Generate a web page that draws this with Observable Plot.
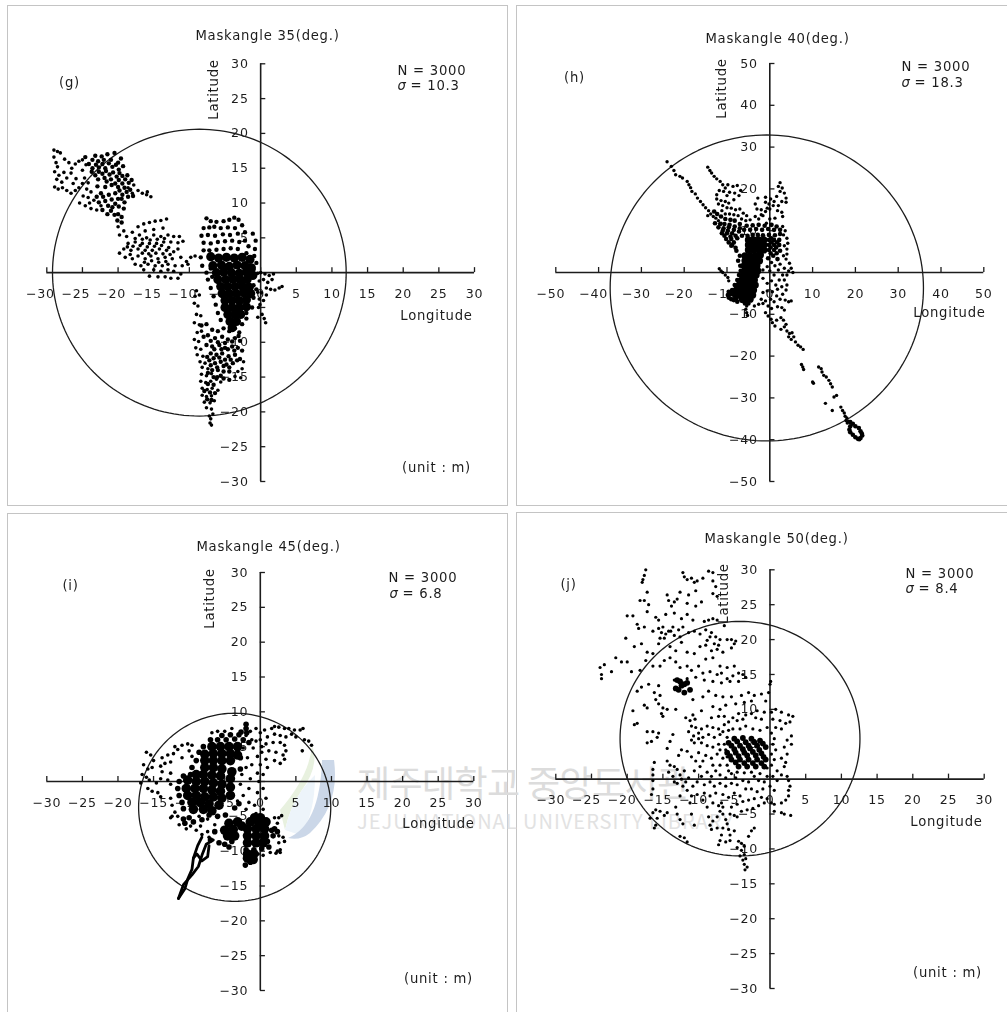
<!DOCTYPE html>
<html><head><meta charset="utf-8">
<script src="https://cdn.jsdelivr.net/npm/d3@7"></script>
<script src="https://cdn.jsdelivr.net/npm/@observablehq/plot@0.6"></script>
<style>
html,body{margin:0;padding:0;background:#fff}
#page{position:relative;width:1007px;height:1012px;overflow:hidden;background:#fff}
.frame{position:absolute;border:1.5px solid #c4c4c4;box-sizing:border-box}
.wm{position:absolute;white-space:nowrap;color:#dcdcdc;font-family:"Noto Sans CJK KR",sans-serif}
</style></head><body><div id="page"></div>
<script>
// ---- Panel (g) Maskangle 35 ----
const gLoose=[[-29,17.6],[-28.5,17.4],[-28.1,17.2],[-29,16.6],[-28.7,15.8],[-28.5,15.2],[-27.5,16.3],[-26.9,15.8],[-28.9,14.5],[-28.3,14],[-27.6,14.4],[-28.6,13.4],[-27.9,13],[-27.2,13.6],[-28.9,12.3],[-28.4,12],[-27.8,12.2],[-27.2,11.8],[-26.6,11.4],[-26,11.8],[-25.5,12.2],[-26.3,12.8],[-25.9,13.5],[-26.6,14.3],[-26.5,15],[-26,15.6],[-25.5,16],[-25,16.2],[-24.5,15.5],[-25,14.7],[-24.7,13.6],[-24.2,12.9],[-25,12.8],[-24.4,12],[-23.8,11.6],[-24.9,11],[-24.2,10.8],[-25.4,10],[-24.6,9.6],[-24,10],[-23.4,10.4],[-23.8,9.2],[-23,9],[-22.4,9.6],[-18.6,12.2],[-18,11.4],[-17.8,12.6],[-17.2,11.8],[-16.6,11.4],[-16,11.2],[-15.4,10.9],[-15.9,11.6],
[-20,6.6],[-19.2,6],[-19.8,5.4],[-18.8,5.2],[-18,5.8],[-17.2,6.6],[-16.4,7],[-15.6,7.2],[-14.8,7.4],[-14,7.5],[-13.2,7.7],[-13.7,6.4],[-15,6.2],[-16.2,6],[-17,5.4],[-16,5],[-15,5.4],[-14,5.2],[-13,5.4],[-12.2,5.2],[-11.4,5.2],[-10.9,4.5],[-11.6,4.3],[-12.6,4.4],[-13.6,4.4],[-14.6,4.2],[-15.6,4.2],[-16.6,4.2],[-17.6,4.4],[-18.6,4.2],[-19.2,3.4],[-18.2,3.2],[-17.2,3.4],[-16.2,3.2],[-15.2,3.2],[-14.2,3.4],[-13.2,3.2],[-12.2,3],[-11.6,3.4],[-19.8,2.8],[-19,2.2],[-18,2],[-17.2,2.4],[-16.2,2],[-15.4,2.4],[-14.4,2],[-13.4,2.2],[-12.4,2],[-11.2,2.2],[-9.8,2.2],[-9.2,2.4],[-10.4,1.6],[-17.6,1.2],[-16.8,1],[-15.8,1.2],[-14.8,1],[-13.8,1],[-13,1.2],[-12,1],[-11,1],[-10.2,1.2],[-16.4,0.4],[-15,0.4],[-14,0.2],[-13,0.4],[-12.2,0.2],[-14.4,-0.6],[-13.4,-0.6],[-12.6,-0.8],[-11.6,-0.8],[-11.2,-0.2],[-15.6,-0.5],[-18.7,3.7],[-17.9,3.8],[-16.9,3.9],[-15.9,3.7],[-14.9,3.8],[-13.9,3.9],[-12.9,3.6],[-16.6,2.8],[-15.7,2.7],[-14.7,2.8],[-13.7,2.7],[-12.7,2.6],[-17.6,4.9],[-16.6,4.8],[-15.5,4.7],[-14.5,4.8],[-13.5,4.9],[-18.3,2.6],[-16.3,1.5],[-15.3,1.7],[-14.3,1.5],[-13.3,1.6],
[-9,-2.6],[-9.2,-3.4],[-8.6,-3.2],[-9.3,-4.4],[-8.8,-4.8],[-9,-6],[-8.4,-6.2],[-9.3,-7.2],[-8.6,-7.5],[-8.9,-8.6],[-8.3,-8.4],[-9.3,-9.6],[-8.7,-9.9],[-9.1,-10.8],[-8.4,-11],[-8.9,-11.8],[-8.1,-12],[-8.5,-12.8],[-7.8,-13],[-8.2,-13.6],[-7.4,-13.8],[-8.3,-14.6],[-7.6,-14.8],[-6.9,-14.5],[-8.4,-15.6],[-7.7,-15.8],[-7,-15.6],[-6.2,-15.3],[-8.2,-16.6],[-7.5,-16.8],[-6.8,-16.6],[-6,-16.9],[-5.6,-15.7],[-8.2,-17.6],[-7.6,-17.8],[-6.9,-17.7],[-7.9,-18.6],[-7.1,-18.7],[-6.5,-18.4],[-7.6,-19.4],[-6.9,-19.6],[-6.7,-20.3],[-7,-21],[-7.1,-21.6],[-6.9,-21.9],[-7.2,-20.6],
[-3.2,-14.2],[-2.6,-13.8],[-3.6,-14.9],[-2.4,-12.8],[-2.8,-15.1],[-0.4,-0.1],[0,0],[0.6,-0.2],[1.2,-0.4],[1.8,-0.2],[-0.2,-1.2],[0.4,-1],[1,-1.4],[1.6,-1],[0.8,-2.2],[1.4,-2.4],[2,-2.5],[2.6,-2.2],[3,-2],[-0.4,-2.8],[0.1,-2.9],[0.8,-3.2],[-0.2,-3.8],[0.4,-4],[-0.3,-5],[0.2,-6],[0.5,-6.6],[0.7,-7.2],[-0.4,-6.4],[-0.1,-4.6]];
const gMid=[[-23.6,16.2],[-22.8,16],[-22,16.2],[-21,16.2],[-20,15.8],[-23.6,15],[-22.7,15.1],[-21.8,15],[-20.8,15.2],[-19.9,14.8],[-23.2,14],[-22.2,14.2],[-21.2,14.1],[-20.2,13.8],[-19.4,13.9],[-21.6,13.1],[-20.4,12.8],[-19.4,12.8],[-18.5,12.9],[-19.8,11.8],[-18.8,11.6],[-22.4,11.4],[-21.4,9.6],[-20.4,9.9],[-19.5,10.6],[-21,8.9],[-20,8.4],[-24.6,16.6],[-23.2,16.8],[-22.3,16.7],[-21.5,17],[-20.5,17.2],[-19.6,16.4],[-24.1,15.6],[-23.1,15.5],[-22.2,15.6],[-21.3,15.7],[-20.3,15.5],[-19.3,15.3],[-23.7,14.5],[-22.7,14.5],[-21.7,14.6],[-20.7,14.4],[-19.8,14.3],[-18.7,14],[-22.8,13.4],[-21.9,13.6],[-21,13.4],[-19.9,13.3],[-19,13.4],[-18.1,13.3],[-22.9,12.4],[-21.8,12.3],[-20.9,12.6],[-20,12.3],[-19.1,12.2],[-18.3,11.9],[-17.9,11],[-23,10.9],[-22.1,10.9],[-21.3,11.2],[-20.4,11.4],[-19.4,11.2],[-18.6,10.9],[-22.7,10.1],[-21.8,10.3],[-20.9,10.5],[-20,10.6],[-19.1,10.1],[-22.2,9],[-20.8,9.4],[-19.9,9.5],[-19.2,9.2],[-21.5,8.4],[-20.5,8.3],[-19.5,8],[-20.1,7.5],[-19.5,7.2],
[-7.6,7.8],[-7,7.4],[-6.2,7.3],[-5.2,7.4],[-4.4,7.6],[-3.7,7.9],[-3.1,7.6],[-2.6,6.8],[-8,6.4],[-7.2,6.5],[-6.5,6.6],[-5.6,6.4],[-4.6,6.5],[-3.6,6.4],[-2.2,5.8],[-8.3,5.3],[-7.4,5.4],[-6.4,5.3],[-5.3,5.5],[-4.3,5.4],[-3.2,5.6],[-2.2,4.6],[-1.1,5.6],[-0.7,4.6],[-8,4.3],[-7,4.2],[-6,4.4],[-5,4.5],[-4,4.6],[-3,4.4],[-1.7,3.8],[-0.8,3.4],[-8,3.2],[-7.2,3.2],[-6.2,3.3],[-5.2,3.4],[-4.2,3.5],[-3.2,3.4],[-2,2.8],[-0.9,2.4],[-0.6,1.4],
[-8.3,-7.6],[-7.6,-7.4],[-6.8,-8.2],[-6,-8.4],[-5.2,-8],[-4.4,-8.4],[-3.6,-8],[-3,-8.6],[-7.4,-9],[-6.4,-9.4],[-5.4,-9.2],[-4.6,-9.6],[-3.6,-9.4],[-2.9,-9.8],[-7.6,-10.4],[-6.8,-10.6],[-5.8,-10.4],[-5,-10.8],[-4,-10.6],[-3.2,-10.8],[-2.6,-11.2],[-7,-11.6],[-6.2,-11.8],[-5.4,-11.6],[-4.5,-12],[-3.6,-11.8],[-2.9,-12.4],[-7.2,-12.6],[-6.4,-13],[-5.6,-12.8],[-4.8,-13.2],[-3.9,-13],[-6.8,-14],[-6,-14],[-5.2,-14.2],[-4.4,-14.2],[-5.2,-15.2],[-4.4,-15.4],[-6.1,-15],[-8,-9.2],[-7,-9.8],[-6,-10],[-5,-10.1],[-4,-9.9],[-3.1,-9.1],[-6.5,-11],[-5.5,-11],[-4.6,-11],[-3.7,-11.2],[-7.5,-12.1],[-6.6,-12.3],[-5.8,-12.2],[-5,-12.5],[-4.2,-12.5],[-3.3,-12.6],[-7,-13.3],[-6.1,-13.6],[-5.2,-13.4],[-4.4,-13.6],[-7.4,-14.4],[-6.6,-15],[-5.6,-14.8],[-7.4,-16],[-6.6,-16.1],[-7.9,-17],[-7.1,-17.2],[-6.4,-17.3],[-7.5,-18.2],[-6.9,-18.3],
[-8.4,2.2],[-8.2,1],[-7.6,0],[-7.4,-1],[-7,-2.2],[-6.6,-3.4],[-6.3,-4.6],[-6,-5.8],[-5.6,-6.8],[-6.8,-0.6],[-7,0.6],[-1,0.4],[-1,-1.8],[-0.6,-2.4],[-1,-3.6],[-1.2,-5],[-2,-5.8],[-2,-6.6],[-2.6,-7.4]];
const gCore=[[-7,2.3],[-5.9,2.1],[-4.8,2.2],[-3.7,2.1],[-2.6,2.2],[-1.5,1.9],[-6.7,1],[-5.5,1.1],[-4.4,0.9],[-3.3,1.1],[-2.2,1],[-1.3,0.7],[-6.2,0],[-5.2,0.1],[-4.1,0],[-3,-0.1],[-2,0.1],[-1.1,-0.4],[-6,-1],[-4.9,-1],[-3.9,-0.9],[-2.9,-1],[-1.9,-1],[-5.6,-2],[-4.6,-2],[-3.6,-2],[-2.6,-1.9],[-1.6,-2.1],[-5.4,-3],[-4.4,-3],[-3.4,-3],[-2.4,-2.9],[-1.4,-3],[-5,-4],[-4,-4],[-3,-4],[-2,-3.9],[-5,-5],[-4,-5],[-3,-5],[-2,-4.9],[-4.6,-6],[-3.6,-6],[-2.8,-6],[-4.3,-7],[-3.4,-7],[-4,-7.9]];
// ---- Panel (h) Maskangle 40 ----
const hLoose=[[-24,26.5],[-23,25.4],[-22.4,24.4],[-22,23.4],[-21,23],[-20.4,22.6],[-19.3,21.8],[-18.9,21],[-18.5,20.3],[-18.2,19.4],[-17.4,18.8],[-16.9,17.8],[-16.2,17],[-15.6,16.2],[-15,15.5],[-14.3,14.8],[-13.8,14],[-14.5,13.6],[-13.2,13.4],[-12.6,13],[-12,12.4],[-11.4,11.8],[-14.5,25.2],[-14,24.4],[-13.6,23.8],[-13,23],[-12.4,22.4],[-11.6,21.8],[-11,21],[-10.4,20.2],[-9.8,21],[-8.6,20.6],[-7.6,20.8],[-6.8,19.6],[-7.2,18.4],[-8.2,19],[-9.4,19.2],[-10,18.4],[-10.8,19.4],[-11.8,19.6],[-12.4,18.6],[-12.4,17.6],[-11.4,17.2],[-10.4,17],[-9.6,16.6],[-8.4,17.4],[-12,16.4],[-11,16],[-10,15.5],[-9,15.4],[-8,15],[-7,15.2],[-6.2,14.2],[-5.4,13.6],[-11.2,14.8],[-10.4,14],[-9.4,14],[-8.4,13.8],[-7.4,13.6],[-6.6,12.8],[-5.6,12.4],[-4.6,12.6],[-3.4,13.4],[-2.6,12.8],[-1.6,13.6],[-1,14.6],[-0.6,15.4],[-0.2,16.4],[0,15.2],[0.8,16],[1,17],[1.6,18.2],[2.4,19.4],[2,20.6],[2.4,21.5],[2.9,20.2],[3.4,19],[3.8,17.8],[3.8,16.8],[2.8,17],[2,16],[1.8,14.8],[2.8,14.4],[3,13.4],[1.2,13],[-1,18],[-2.8,17.8],[-3.4,16.4],[-3,15.2],[-2,15],[-1,16.8],[0.2,17.6],[-2,13.8],[0,12.8],[-0.8,11.8],[3,11],[3.6,10],[3.2,9],[4,8.2],[4.2,7],[3.4,6.4],[4,5.6],[4,4.4],[3.2,4],[3.8,3.2],[4.6,2.2],[5,1],[5.4,0],[4.4,0.4],[3.4,1],[4,-0.6],[3.4,-1.8],[4,-3],[3.8,-4.2],[2.8,-3.4],[3,-5.2],[3.6,-6.6],[4.4,-7],[5,-6.8],[2.4,-6.4],[1.6,-5.6],[1,-7],[0.2,-6.4],[-1,-6.8],[-1.6,-7.4],[-0.4,-8],[0.4,-8.6],[1.8,-8.2],[2.8,-8.4],[3.4,-9],[-1,-9.6],[-0.4,-10.4],[0.3,-11.2],[0.6,-12],[1.2,-12.8],[1.6,-11.4],[2.6,-10.8],[3.2,-11.4],[3.8,-12.4],[3.4,-13],[2.6,-13.6],[4,-14],[4.6,-14.6],[5.2,-14.4],[4.4,-15.4],[5,-16],[5.6,-15.4],[6,-16.6],[6.6,-17.4],[7.2,-17.8],[7.8,-18.4],[7.4,-22],[7.7,-22.6],[7.9,-23.2],[11.4,-22.6],[12,-23],[12.2,-23.8],[12.6,-24.6],[13.2,-25],[13.8,-25.8],[14.2,-26.6],[14.6,-27.4],[10,-26.2],[10.2,-26.5],[15,-29.8],[15.6,-29.4],[13,-31.3],[14.6,-33],[16.6,-32.2],[17,-33],[17.4,-33.6],[17.6,-34.4],[18,-34.8],[17.8,-35.4],[18.4,-35.6],[18.1,-36],[-11.8,0.9],[-11.4,0.4],[-11,0],[-10.4,-0.6],[-9.8,-1.2],[-9.6,-2],[-5.4,-8],[-5.6,-8.8],[-5.4,-9.6],[-5.2,-10.3],
[-1.6,-1.4],[-0.6,-2.6],[0.4,-2],[1.4,-3],[2.2,-1.8],[1,-0.6],[0,0.4],[2,0.6],[3,-0.6],[-0.6,-4.4],[0.6,-4.6],[1.8,-4],[-1.6,-4.8],[-2,-6.4],[-2.6,-7.6],[-3.6,-8],[2.4,2],[1.2,1.6],[0.4,2.4],[-0.6,1.4],[-1.6,0.6]];
const hMid=[[-13,14.6],[-12.3,14],[-11.4,13.4],[-10.4,12.8],[-9.2,12.6],[-8.2,12.4],[-7,11.6],[-12,10.8],[-10.8,10.6],[-9.6,10.8],[-11.2,9.4],[-10,9.4],[-8.8,9.4],[-10.2,8],[-9,8],[-7.6,8.2],[-12.8,11.8],[-11.6,11.6],[-10.6,11.6],[-9.4,11.4],[-8.2,11],[-11,10],[-9.8,10],[-8.4,10.2],[-7.2,9.8],[-10.6,8.8],[-9.2,8.6],[-8,8.8],[-9.6,7.2],[-8.4,7.2],[-9,6.4],[-8,5.9],[-8.8,6.6],[-7.8,5.2],[-7,10.6],[-7,4],[-6,10.2],[-4.6,10.2],[-3.2,10.4],[-1.8,10.2],[-0.4,10.4],[1,10.2],[-5.4,11.2],[-4,11.3],[-2.6,11.4],[-1.2,11.2],[0.4,11.4],[1.6,11],[2.4,10.2],[-4,9],[-2.8,9],[-1.6,8.9],[-0.2,9],[1.2,8.9],[2.4,9.2],[-0.2,7.8],[1,7.8],[2.2,7.8],[-0.2,6.6],[1,6.6],[2.2,6.6],[-0.2,5.4],[1,5.4],[2.4,5.2],[0.8,4],[-0.4,3.4],[1.8,3.2],[-6.5,8.8],[-5.2,8.8],[0.4,8.2],[1.7,7.2],[0.4,7.2],[1.5,6],[0.2,6],[1.6,4.6],[0.2,4.6],
[-9.6,-4.6],[-9.8,-5.4],[-9.6,-6],[-9,-6.4],[-8.4,-6.6],[-7.6,-7],[-8.8,-4.2],[-9,-5.2],[-8.2,-3],[-7.6,-1.8],[-7.2,-0.6],[-6.8,0.4],[-6.9,1.6],[-7.4,2.8],[-6.4,-6.8],[-5.8,-7.4],[-5,-7.4],[-6.8,-5.8],[-7.9,-5.6],[-8.4,-4.9],[-8,-4],[-7.4,-3],[-7.8,-6.2],[-9.2,-4.8],
[18.8,-36.8],[18.6,-37.6],[18.8,-38.2],[19.4,-38.8],[20,-39.4],[20.6,-39.8],[21.2,-39.6],[21.6,-39],[21.2,-38],[20.8,-37.2],[20,-36.8],[19.4,-36.2],[18.8,-35.8],[20.9,-39.9],[21.5,-38.5]];
const hCore=[[-5,7.8],[-3.8,7.8],[-2.6,7.8],[-1.4,7.8],[-5,6.6],[-3.8,6.6],[-2.6,6.6],[-1.4,6.6],[-5,5.4],[-3.8,5.4],[-2.6,5.4],[-1.4,5.4],[-5.8,4],[-4.6,4],[-3.4,4],[-2.2,4.2],[-5.8,2.8],[-4.8,2.8],[-3.6,2.8],[-2.4,2.8],[-6,1.6],[-5,1.6],[-4,1.6],[-3,1.6],[-5.8,0.4],[-4.8,0.4],[-3.8,0.4],[-2.8,0.4],[-6.2,-0.6],[-5.2,-0.6],[-4.2,-0.6],[-3.2,-0.6],[-6.6,-1.8],[-5.6,-1.8],[-4.6,-1.8],[-3.6,-1.8],[-7.2,-3],[-6.2,-3],[-5.2,-3],[-4.2,-3],[-3.4,-3],[-7.8,-4.2],[-6.8,-4.2],[-5.8,-4.2],[-4.8,-4.2],[-3.8,-4.2],[-8,-5.4],[-7,-5.4],[-6,-5.4],[-5,-5.4],[-4,-5.4],[-6.4,-6.4],[-5.4,-6.4],[-4.6,-6.4]];
// ---- Panel (i) Maskangle 45 ----
const iLoose=[[-16,4.2],[-15.4,3.8],[-15,3],[-16.4,2.4],[-15.8,1.8],[-15.2,2],[-16.6,1],[-16,0.6],[-15.6,0.2],[-16.8,-0.2],[-15.8,-1],[-15.2,-1.4],[-14.4,-1.6],[-14.6,-0.2],[-14,0.4],[-13.8,1.4],[-14,2.2],[-13.4,2.6],[-13.8,3.4],[-13,3.8],[-12.6,2.8],[-12.2,4],[-12,5],[-11.6,4.6],[-11,5.2],[-10.2,5.4],[-9.6,5.2],[-10,4.4],[-9.6,3.6],[-11,3.4],[-12.6,1.2],[-13,0.2],[-14,-2.2],[-12.6,-0.4],[-12.6,-2.4],[-12.4,-3.4],[-12,-4.4],[-11.6,-5],[-12.4,-5],[-12.6,-5.2],[-11.4,-6.2],[-10.4,-6.8],[-9.8,-6.4],[-9,-7],[-8.4,-6.4],[-8.2,-7.6],[-7.4,-7.2],[-7.2,-8],[-8.6,-5],[-7.4,-5.4],[-6.4,-6.2],
[-6.8,7],[-6,7.2],[-5,7.2],[-4,7.6],[-2,6.6],[-1.4,7.2],[-0.6,7.6],[0,7],[0.6,7.4],[1.6,7.6],[2,7.9],[2.6,7.8],[3.4,7.6],[4,7.6],[4.8,7.4],[5.6,7.4],[6,7.6],[4.4,6.8],[5,6.4],[6.2,6],[6.8,5.8],[7.2,5.2],[5.9,4.4],[3.6,6.4],[2.8,6.6],[2,6.8],[1,6.4],[0,6],[0.8,5.4],[1.8,5.6],[2.8,5.6],[3.4,5.2],[3.6,4.4],[3.2,3.8],[3.4,3.2],[2.2,4.2],[1.2,4.4],[0.2,4.2],[-0.4,3.6],[0.8,3.2],[2,3],[2.8,2.6],[0,2.4],[1,2],[-0.4,1.2],[0.4,1],[-0.2,0],[0.4,-1],[-0.4,-1.6],[0.8,-2.4],[2,-5.2],[2.6,-5.2],[3,-4.9],[2.4,-6],[-1.2,2.4],[-2.4,4.8],[-1,4.8],[-2,2],[-1.4,0.4],[-1.6,-1],[-2.4,-2],[-1.6,-3],[-0.8,-3.4],[0.4,-4],[-0.6,-4.6],[-1.2,6],[0.2,5],[-0.6,5.8],[-1.8,3.4],[-2.6,1],[-2.8,-0.4],[-3.2,-2.8],[-2,-4],
[2.6,-7.8],[3.2,-8],[3.4,-8.6],[2.6,-8.8],[2.8,-9.8],[2.4,-10],[-0.3,-10.4],[0.4,-10.6],[1.4,-10.2],[2.2,-10.3],[2.8,-10.2]];
const iMid=[[-2,8.2],[-1.9,7],[-2,7.6],[-6,6],[-4.8,6],[-3.6,6.1],[-2.4,6],[-1.6,5.6],[-7,6],[-5.4,6.6],[-4.2,6.7],[-3,6.7],[-2.7,7.1],[-8,5],[-8.6,4.2],[-9,3],[-9.6,2],[-9.8,1],[-11.4,0],[-10.8,0.8],[-11.6,-1],[-11.4,-2],[-11,-3],[-10.8,-3.9],[-10.8,-5.4],[-10.6,-6],[-10,-5.2],[-9.4,-5.8],[-8.2,-5.5],[-7.2,-4.8],[-6,-5],[-4.9,-4.8],[-3.6,-3.8],[-3,-3.2],[-2.8,1.8],[-2.8,3.4],[-3.2,4.6],
[1.6,-7],[1.8,-7.8],[1,-8.6],[-0.9,-9.8],[-2,-9.8],[-4.4,-9.4],[-4,-8.6],[-6.4,-7.2],[-5.8,-8.8],[-5,-9],[-7,-8.4],[2,-6.8],[2.4,-7.2],[1.2,-9.4],[0.2,-9.6],[-1.4,-11.6],[-2.1,-12]];
const iCore=[[-6.8,5],[-5.6,5],[-4.4,5],[-3.2,5],[-7.8,3.9],[-6.6,4],[-5.4,4],[-4.2,4],[-3.2,3.8],[-7.8,3],[-6.6,3],[-5.4,3],[-4.2,3],[-7.8,2],[-6.6,2],[-5.4,1.8],[-4,1.4],[-9,1],[-8,1],[-6.8,0.9],[-5.6,0.8],[-4.2,0.4],[-10.2,0.2],[-9,0],[-7.8,0],[-6.6,-0.2],[-5.4,-0.4],[-4.2,-0.8],[-10.4,-1],[-9.2,-1],[-8,-1],[-6.8,-1.2],[-5.6,-1.4],[-4.2,-2],[-10.2,-2],[-9,-2],[-7.8,-2.2],[-6.6,-2.2],[-5.4,-2.4],[-9.6,-3],[-8.4,-3],[-7.2,-3.2],[-5.8,-3.4],[-9.4,-4],[-8,-4],[-6.8,-4.2],[-0.8,-5.2],[0,-5.2],[-1.4,-5.8],[-0.2,-6],[0.8,-5.8],[-4.4,-6],[-3.2,-5.8],[-2.6,-6.4],[-1.8,-6.8],[-0.6,-6.8],[0.6,-6.8],[-5,-7],[-3.8,-6.9],[-1.8,-7.8],[-0.6,-7.8],[0.6,-7.8],[-4.6,-7.8],[-3.6,-7.8],[-1.8,-8.8],[-0.6,-8.8],[0.4,-8.8],[-1.8,-10.4],[-0.9,-10.4],[-1.8,-11],[-1,-11.2]];
const iTrailA=[[-11.5,-16.8],[-10.6,-15.4],[-10.2,-14],[-9.6,-12.6],[-9.4,-11],[-8.8,-9.2],[-8.2,-8]];
const iTrailB=[[-11.5,-16.8],[-10.8,-14.8],[-9.6,-13.4],[-8.7,-12.2],[-8.2,-10.6],[-7.6,-9],[-6.6,-8.4]];
const iTrailC=[[-9.4,-11],[-8.9,-10.4],[-8.2,-11.4],[-7.4,-10.8],[-7.2,-9.2]];
// ---- Panel (j) Maskangle 50 ----
const jLoose=[[-17.4,30],[-17.6,29.2],[-17.8,28.6],[-17.9,28.2],[-12.2,29.6],[-12,29],[-11.6,28.6],[-11,28.8],[-10.6,28.2],[-10.2,28.4],[-9.4,28.8],[-8.6,29.8],[-8,29.6],[-8,28.4],[-7.6,27.6],[-8,26.6],[-7.4,26.2],[-10.4,27],[-11.4,26.4],[-12.6,26.8],[-13,25.8],[-13.4,25.4],[-14.4,26.4],[-14.2,25.6],[-13.8,24.8],[-11.6,25.2],[-10.4,24.8],[-9.6,25.4],[-17.2,26.8],[-18.2,25.6],[-17.6,25.6],[-17,25],[-17.2,24],[-16,23.2],[-15.6,22.8],[-14.6,23.6],[-13.4,23.8],[-12.4,23],[-11.6,23.6],[-10.8,22.8],[-9.2,22.6],[-8.6,22.8],[-8,23],[-7.4,22.8],[-6.4,22],[-20,23.4],[-19.2,23.4],[-18.6,22.2],[-18.4,21.6],[-17.6,21.8],[-16.4,21.2],[-15.6,21.6],[-15,21.8],[-14.2,21.2],[-13.6,21.8],[-12.8,21.4],[-12.2,21.8],[-11.4,21],[-10.6,21.2],[-9.8,20.8],[-9,21.4],[-8.4,20.4],[-7.6,20.4],[-7,20],[-6,20],[-5,19.4],[-5.4,20],[-4.8,19.8],[-20.2,20.2],[-19,19],[-18,19.4],[-17.2,18.2],[-16.4,18],[-15.6,19.4],[-14.8,20.2],[-14,19],[-13.2,18.4],[-12.4,19.6],[-11.6,18.2],[-10.6,18],[-9.8,19],[-9,19.2],[-8.2,18.4],[-7.4,18.6],[-6.6,18.2],[-5.4,18.8],[-8,17.4],[-9,17.2],[-7,16.2],[-6,16],[-5,16.2],[-6.8,15.2],[-15.2,21],[-14.6,20.8],[-13.9,21.2],[-13.4,20.6],[-12.6,20.4],[-15.4,20.2],[-8.2,21],[-7.8,19.4],[-7.2,19.2],[-8.8,19.9],
[-23.8,16],[-23.2,16.4],[-23.6,15],[-23.6,14.4],[-22.2,15.4],[-21.6,17.4],[-20.8,16.8],[-20,16.8],[-19.4,15.4],[-18.2,15.6],[-17.4,17],[-16.4,16.2],[-15.4,16.2],[-14.8,17],[-14,17.4],[-13.2,16.8],[-12.6,16],[-11.6,16.2],[-11,15.6],[-10,16.2],[-9.4,15.2],[-8.4,15.4],[-7.4,15],[-6,14.4],[-5.2,14.8],[-4.4,15.2],[-3.8,15],[-3.4,14.6],[-4.4,14],[-5.6,14],[-6.8,13.8],[-8,14],[-9.2,14.2],[-10.4,14.6],[-11.6,14.4],[-13.4,14.2],[-15.6,13.4],[-17,13.6],[-18,13.2],[-18.6,12.6],[-16.2,12.4],[-15.4,12],[-16,11.4],[-15.6,10.8],[-17.6,10.6],[-17.2,10.2],[-15,10.2],[-14.4,10],[-15.2,9.4],[-15,9],[-13.2,10],[-10.8,11.4],[-9.4,11.8],[-8.6,12.6],[-7.6,12],[-6.6,11.8],[-5.4,11.8],[-4,12],[-3,12.4],[-2.2,12],[-1.2,12.2],[-0.2,12.4],[0,13.6],[0.1,14],[-0.6,11.2],[-2.6,11.2],[-3.6,11],[-4.8,10.8],[-6.2,10.6],[-7,10],[-8,10.4],[-9.6,9.8],[-10.8,9.2],[-11.8,8.8],[-19.2,9.8],[-18.6,8],[-19,7.8],[-17.2,6.8],[-16.4,6.8],[-15.8,6],[-15.6,6.6],[-17.2,5.2],[-16.6,5.4],[-14,5.4],[-13.6,6.4],[-14.4,4.4],
[0.2,9.6],[0.8,10],[1.6,9.6],[2.6,9.2],[3.2,9],[0.4,8.6],[1.4,8.4],[2.2,8],[2.8,8.2],[0.8,7.4],[1.6,7.2],[3,6.2],[2.4,5.6],[3,5],[2,4.6],[2.4,3.6],[1.6,3],[2.2,2.4],[2,1.8],[1,1.2],[1.6,0.6],[2.4,0.4],[2.6,-0.2],[2.8,-1],[2.6,-1.6],[2.6,-2.4],[2.2,-3],[1.6,-3.4],[0.6,-3.6],[0.2,-3.4],[0.6,-4.6],[1.6,-4.8],[2,-5],[2.9,-5.2],[0,-1],[0.6,-1.6],[-0.4,0.4],[0.4,0.4],[1,-0.2],
[-16.2,2.4],[-16.4,1.4],[-16.4,0.6],[-16.4,-0.2],[-16.4,-1.4],[-16.6,-2.2],[-16,-4.4],[-15.4,-4.6],[-16.4,-4.8],[-16.8,-5.6],[-15.8,-5.6],[-14.8,-5.2],[-14.4,-4.8],[-16.2,-7],[-16,-6.6],[-13.4,-0.4],[-12.6,-2.4],[-13.2,-4],[-13,-5],[-12.6,-5.8],[-12.2,-6.4],[-12.6,-8.2],[-12,-8.4],[-11.6,-9],[-11,-5],[-11.2,-3.4],[-10.6,-6.6],[-9.4,-3],[-8.8,-4],[-8.6,-5.4],[-8,-6],[-8.4,-6.6],[-8.2,-7.2],[-7.4,-7],[-6.6,-7],[-6.8,-8],[-7,-8.8],[-6.2,-9],[-7.2,-9.4],[-5.6,-5],[-5,-5.2],[-4.6,-5.4],[-4,-4.6],[-3.2,-4.4],[-2.4,-4.2],[-1.6,-3.8],[-2.6,-7.4],[-2.2,-7],[-3,-8.2],[-5.4,-4],[-6.6,-5],[-6.2,-5.8],[-7.4,-5.4],[-6,-6.4],[-5.8,-7.2],[-5.6,-8],[-5.6,-8.8],[-5,-7.4],[-4.4,-8.9],[-4,-9.2],[-3.6,-9.6],[-4.6,-9.8],[-4,-10.2],[-3.6,-10.8],[-4.2,-11],[-3.8,-11.6],[-3.4,-11.4],[-3.6,-12.2],[-3.2,-12.6],[-3.5,-13],[-7,-4.6],[-6.6,-4],[-7.2,-3.8],
[-14.4,2.6],[-14,2],[-13.4,1.8],[-13,1.4],[-14.2,1],[-13.6,0.4],[-12.6,0.6],[-12,1.2],[-12.4,0],[-11.8,-0.4],[-11.4,0.2],[-13,-0.6],[-12.2,-1],[-11.6,-1.6],[-10.8,-1],[-10.2,-0.4],[-9.6,0.4],[-8.8,1],[-8.2,0.4],[-7.6,1.2],[-7,0.6],[-6.2,0.2],[-5.4,0.8],[-4.8,0.2],[-10.6,1.2],[-9.8,1.8],[-9.2,-0.8],[-8.4,-0.4],[-7.8,-1],[-7,-0.6],[-6.2,-1],[-5.4,-0.6],[-4.6,-0.8],[-3.8,-0.2],[-3,-0.4],[-2.2,0.4],[-1.6,-0.2],[-0.8,-0.4],[-11,-2.4],[-10.2,-2.2],[-9.2,-2],[-8.4,-2.4],[-7.6,-2],[-6.6,-2.2],[-5.8,-2.6],[-5,-2],[-4.2,-2.4],[-3.4,-1.4],[-2.6,-1.4],[-1.8,-1.8],[-1,-1.4],[-3.8,-3.2],[-3,-3],[-2.2,-2.8],[-1.2,-2.6],[-0.4,-2.8],[-4.6,-3.6],[-0.8,-3.4],[-6.8,-3.4],[-8,-3.4],
[-12.4,4.2],[-11.6,4],[-12.8,3.4],[-11,3.2],[-10,3.8],[-9,3.4],[-8.2,3],[-7.4,3.6],[-6.6,3],[-10.4,2.6],[-9.4,2.6],[-8,2],[-7,2],[-6,2],[-10.6,5.2],[-9.6,5.2],[-8.8,4.8],[-8,4.6],[-7.2,5],[-6.4,5],[-10,6.6],[-9.4,6],[-8.6,6.4],[-7.8,6],[-7,6.4],[-11,7.6],[-10.4,7.4],[-9.6,7.2],[-8.8,7.6],[-8,7.4],[-7.2,7.2],[-6.4,7.8],[-5.8,8.2],[-5.2,8.8],[-4.4,9.4],[-3.4,9.2],[-2.6,9.4],[-1.8,9.8],[-0.8,9.6],[-1.2,8.6],[-2,8.8],[-3.8,8.6],[-4.6,8.4],[-6.4,9],[-7.2,9],[-8.2,8.8],
[-11.2,8.4],[-10.5,8.6],[-11.4,6.8],[-10.7,6.2],[-11,5.6],[-10,5.8],[-6.6,6.8],[-6,6],[-6.2,4.2],[-7,4.2],[-6,3.2],[-5.8,1.2],[-4.6,1],[-3.6,0.9],[-2.6,1],[-1.4,0.8],[-0.4,1.6],[0.2,2],[0.6,2.8],[0.2,3.6],[0.8,4.2],[0.4,5],[0.6,5.8],[0.2,6.6],[-0.4,7.4],[-1.4,7],[-2.4,7.2],[-3.4,7.6],[-4.2,7.2],[-5.2,7.2],[-5.8,7]];
const jMid=[[-13,14.2],[-12.4,13.4],[-12.8,12.8],[-12,12.4],[-11.2,12.8],[-12.6,14],[-12,13.6],[-11.6,13.8],[-13.2,13],[-5,5.8],[-3.8,5.9],[-2.6,5.8],[-1.4,5.5],[-5.4,4.8],[-4.2,4.8],[-3,4.8],[-1.8,4.8],[-0.6,4.6],[-6,3.8],[-4.8,3.8],[-3.6,3.8],[-2.4,3.9],[-1.2,3.7],[-5.4,2.8],[-4.2,2.8],[-3,2.8],[-1.8,2.8],[-0.6,2.8],[-4.4,1.8],[-3.2,1.8],[-2,1.8],[-0.8,1.8],[-5.8,5.2],[-4.6,5.4],[-3.4,5.3],[-2.2,5.3],[-1,5.1],[-5,4.3],[-3.8,4.3],[-2.8,4.4],[-1.5,4.2],[-5.6,3.3],[-4.4,3.3],[-3.2,3.4],[-2,3.4],[-0.9,3.2],[-4.8,2.4],[-3.6,2.3],[-2.4,2.3],[-1.2,2.3]];
// ---- Fit circles: centre longitude, centre latitude, radius ----
const gCircle=[-8.6,0,20.6];
const hCircle=[-0.7,-3.7,36.6];
const iCircle=[-3.6,-3.7,13.5];
const jCircle=[-4.2,5.8,16.8];
const ticks30=[-30,-25,-20,-15,-10,-5,0,5,10,15,20,25,30];
const ticks50=[-50,-40,-30,-20,-10,0,10,20,30,40,50];

const FONT='"DejaVu Sans",sans-serif', INK='#1c1c1c';
const page=document.getElementById('page');

function panel(c){
  const L=c.left,T=c.top,W=c.width,H=c.height;
  const lab=(t,px,py,o={})=>Plot.text([t],{frameAnchor:"top-left",dx:px-c.x0,dy:py-c.yTop,textAnchor:"middle",lineAnchor:"middle",fontSize:13.2,fill:INK,style:"",...o});
  const m=c.max, tl=m*0.024;
  const fmt=d=>d<0?"\u2212"+(-d):String(d);
  const circle=d3.range(0,361,2).map(a=>[c.circle[0]+c.circle[2]*Math.cos(a*Math.PI/180),c.circle[1]+c.circle[2]*Math.sin(a*Math.PI/180)]);
  const marks=[
    Plot.line(circle,{x:"0",y:"1",stroke:INK,strokeWidth:1.3}),
    Plot.text(c.ticks.filter(d=>d>=0),{x:d=>d,y:0,text:fmt,dy:21,fontSize:12.6,fill:INK,textAnchor:"middle"}),
    Plot.text(c.ticks.filter(d=>d<0),{x:d=>d,y:0,text:fmt,dy:21,dx:c.negShift,fontSize:12.6,fill:INK,textAnchor:"middle"}),
    Plot.text(c.ticks.filter(d=>d!==0),{x:0,y:d=>d,text:fmt,dx:-12,fontSize:12.6,fill:INK,textAnchor:"end",lineAnchor:"middle"}),
    Plot.ruleY([0],{stroke:INK,strokeWidth:1.6}),
    Plot.ruleX([0],{stroke:INK,strokeWidth:1.6}),
    Plot.ruleX(c.ticks,{x:d=>d,y1:0,y2:tl,stroke:INK,strokeWidth:1.3}),
    Plot.ruleY(c.ticks,{y:d=>d,x1:0,x2:tl,stroke:INK,strokeWidth:1.3}),
    lab(c.title,c.tp[0],c.tp[1]),
    lab(c.tag,c.gp[0],c.gp[1]),
    lab("N = 3000",c.np[0],c.np[1],{textAnchor:"start"}),
    lab("\u03c3",c.sp[0],c.sp[1],{textAnchor:"start",fontStyle:"italic"}),
    lab("= "+c.sigma,c.sp[0]+13,c.sp[1],{textAnchor:"start"}),
    lab("Longitude",c.lonp[0],c.lonp[1]),
    lab("Latitude",c.latp[0],c.latp[1],{rotate:-90}),
  ];
  if(c.unit) marks.push(lab("(unit : m)",c.unit[0],c.unit[1]));
  (c.trails||[]).forEach(t=>marks.push(Plot.line(t,{x:"0",y:"1",stroke:"#000",strokeWidth:2.8})));
  marks.push(Plot.dot(c.core,{x:"0",y:"1",r:c.rCore,fill:"#000"}));
  marks.push(Plot.dot(c.mid,{x:"0",y:"1",r:c.rMid,fill:"#000"}));
  marks.push(Plot.dot(c.loose,{x:"0",y:"1",r:c.rLoose,fill:"#000"}));
  const svg=Plot.plot({width:W,height:H,marginLeft:c.x0-L,marginRight:L+W-c.x1,marginTop:c.yTop-T,marginBottom:T+H-c.yBot,
    x:{domain:[-m,m],axis:null},y:{domain:[-m,m],axis:null},marks,
    style:{background:"transparent",fontFamily:FONT,filter:"blur(0.35px)",letterSpacing:"0.75px"}});
  svg.style.position="absolute";svg.style.left=L+"px";svg.style.top=T+"px";
  return svg;
}

// panel boxes
[[7,5,501,501],[516,5,495,501],[7,513,501,503],[516,512,495,504]].forEach(([l,t,w,h])=>{
  const d=document.createElement('div');d.className='frame';d.style.cssText=`left:${l}px;top:${t}px;width:${w}px;height:${h}px`;page.appendChild(d);
});

// watermark (library stamp behind the charts)
const wmA=document.createElement('div');wmA.className='wm';wmA.textContent='제주대학교 중앙도서관';
wmA.style.cssText='left:357px;top:757px;font-size:36px;line-height:48px;letter-spacing:-0.6px';page.appendChild(wmA);
const wmB=document.createElement('div');wmB.className='wm';wmB.textContent='JEJU NATIONAL UNIVERSITY LIBRARY';
wmB.style.cssText='left:357px;top:807px;font-size:20px;line-height:28px;letter-spacing:1px;color:#e2e2e2';page.appendChild(wmB);
const logo=document.createElementNS('http://www.w3.org/2000/svg','svg');
logo.setAttribute('width','100');logo.setAttribute('height','120');logo.style.cssText='position:absolute;left:250px;top:735px';
logo.innerHTML='<path d="M30 75 Q60 40 62 10 Q70 30 52 55 Q40 72 35 95 Z" fill="#e8f1df"/><path d="M35 95 Q40 72 52 55 Q60 45 65 40 Q65 80 50 100 Z" fill="#edf4fa"/><path d="M72 25 L84 25 Q90 70 60 98 Q50 106 38 103 Q70 90 72 25 Z" fill="#cbd7e8"/>';
page.appendChild(logo);

const panels=[
 {left:8,top:6,width:499,height:498,x0:46.3,x1:474,yTop:63.3,yBot:481,max:30,ticks:ticks30,negShift:-6.5,circle:gCircle,loose:gLoose,mid:gMid,core:gCore,rCore:4.6,rMid:2.2,rLoose:1.8,
  title:"Maskangle 35(deg.)",tag:"(g)",sigma:"10.3",tp:[267,35],gp:[69,82],np:[397,70],sp:[397,85],lonp:[436,315],latp:[213,89],unit:[436,467]},
 {left:517,top:6,width:490,height:498,x0:555.3,x1:983.3,yTop:63,yBot:481,max:50,ticks:ticks50,negShift:-5,circle:hCircle,loose:hLoose,mid:hMid,core:hCore,rCore:3.6,rMid:2.3,rLoose:1.7,
  title:"Maskangle 40(deg.)",tag:"(h)",sigma:"18.3",tp:[777,38],gp:[574,77],np:[901,66],sp:[901,82],lonp:[949,312],latp:[721,88]},
 {left:8,top:514,width:499,height:498,x0:46.3,x1:473.3,yTop:572,yBot:990,max:30,ticks:ticks30,negShift:0,circle:iCircle,loose:iLoose,mid:iMid,core:iCore,rCore:4.8,rMid:2.8,rLoose:1.8,trails:[iTrailA,iTrailB,iTrailC],
  title:"Maskangle 45(deg.)",tag:"(i)",sigma:"6.8",tp:[268,546],gp:[70,585],np:[388,577],sp:[389,593],lonp:[438,823],latp:[209,598],unit:[438,978]},
 {left:517,top:513,width:490,height:499,x0:555.3,x1:983.7,yTop:569.3,yBot:988,max:30,ticks:ticks30,negShift:-5,circle:jCircle,loose:jLoose,mid:jMid,core:[],rCore:2,rMid:2.9,rLoose:1.6,
  title:"Maskangle 50(deg.)",tag:"(j)",sigma:"8.4",tp:[776,538],gp:[568,584],np:[905,573],sp:[905,588],lonp:[946,821],latp:[723,593],unit:[947,972]},
];
panels.forEach(c=>page.appendChild(panel(c)));
</script></body></html>
